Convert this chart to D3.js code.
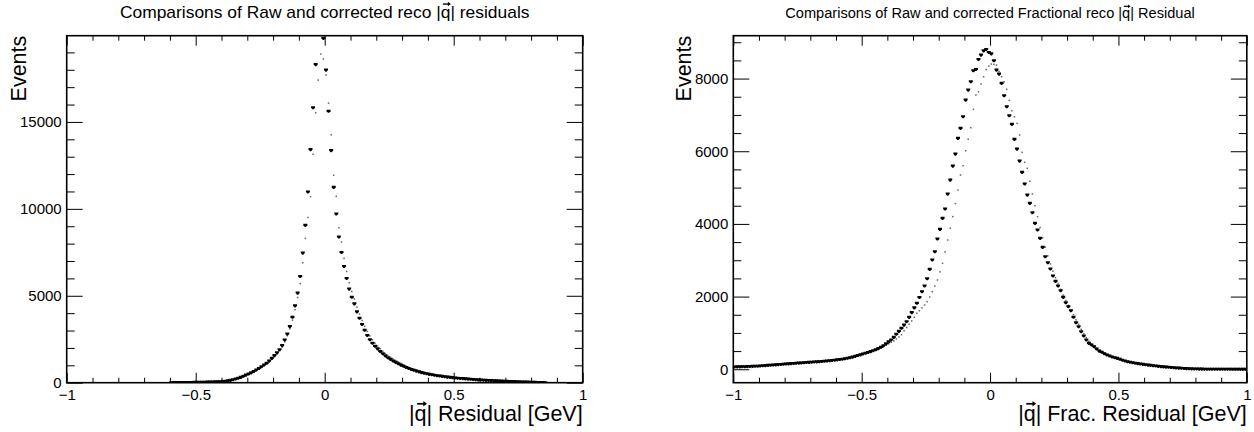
<!DOCTYPE html>
<html>
<head>
<meta charset="utf-8">
<script src="https://cdn.jsdelivr.net/npm/d3@7"></script>
<style>
  body { margin: 0; background: #fff; }
  svg { display: block; }
  text { font-family: "Liberation Sans", Arial, Helvetica, sans-serif; fill: #000; }
</style>
</head>
<body>
<svg id="chart" width="1254" height="432"></svg>
<script>
// Binning shared by all four histograms: 200 bins on [-1, 1]
const binLow = -1, binHigh = 1, nBins = 200;

// Axis ticks
const xMajorTicks = [-1, -0.5, 0, 0.5, 1];
const xMajorLabels = ["\u22121", "\u22120.5", "0", "0.5", "1"];
const xMinorTicks = [-0.9,-0.8,-0.7,-0.6,-0.4,-0.3,-0.2,-0.1,0.1,0.2,0.3,0.4,0.6,0.7,0.8,0.9];
const residMajorTicks = [0, 5000, 10000, 15000];
const residMinorTicks = [1000,2000,3000,4000,6000,7000,8000,9000,11000,12000,13000,14000,16000,17000,18000,19000];
const fracMajorTicks = [0, 2000, 4000, 6000, 8000];
const fracMinorTicks = [500,1000,1500,2500,3000,3500,4500,5000,5500,6500,7000,7500,8500,9000];

// |q| residual, raw reconstruction (dot markers)
const residRaw = [
  0,0,0,0,0,0,0,0,0,0, 0,0,0,0,0,0,0,0,0,0,
  0,0,0,0,0,0,0,0,0,0, 0,0,0,0,0,0,0,0,0,0,
  2,4,6,8,10,11,13,15,17,19,
  22,25,28,31,35,39,43,47,52,58,
  66,80,98,125,160,200,245,295,350,415,
  480,545,620,700,790,885,985,1090,1210,1350,
  1500,1660,1840,2060,2360,2700,3100,3600,4200,4900,
  5700,6900,8300,9500,10703,13141,15527,17406,18905,18617,
  17700,16080,14260,11931,10720,8917,8093,7150,6400,5750,
  5250,4820,4350,3950,3580,3240,2950,2690,2470,2280,
  2110,1950,1810,1680,1565,1460,1365,1275,1190,1110,
  1035,965,900,840,785,735,690,645,605,568,
  533,500,470,442,416,392,370,348,328,310,
  293,278,263,249,236,223,210,198,187,176,
  166,156,146,138,129,121,113,106,99,92,
  86,79,73,67,61,55,50,44,39,34,
  29,23,18,13,8,4,1,0,0,0,
  0,0,0,0,0,0,0,0,0,0
];

// |q| residual, corrected reconstruction (filled markers)
const residCorr = [
  0,0,0,0,0,0,0,0,0,0, 0,0,0,0,0,0,0,0,0,0,
  0,0,0,0,0,0,0,0,0,0, 0,0,0,0,0,0,0,0,0,0,
  3,5,8,9,11,12,14,16,18,20,
  23,26,29,32,36,40,44,49,54,60,
  70,85,105,135,175,215,260,310,370,440,
  500,570,645,730,820,920,1020,1120,1250,1400,
  1560,1720,1900,2133,2461,2807,3228,3770,4421,5153,
  6110,7458,9050,10975,13410,15815,18300,20900,21400,19810,
  17980,15620,13355,11240,9707,8380,7493,6686,5995,5383,
  4922,4536,4075,3712,3350,3020,2720,2470,2270,2100,
  1950,1800,1665,1545,1440,1345,1255,1170,1090,1015,
  945,880,820,765,715,668,625,585,548,515,
  484,456,430,405,385,365,345,325,308,292,
  276,262,248,235,222,210,198,187,176,166,
  156,147,138,130,122,114,107,100,93,87,
  81,75,69,63,58,52,47,42,37,32,
  27,22,17,12,7,3,0,0,0,0,
  0,0,0,0,0,0,0,0,0,0
];

// Fractional |q| residual, raw reconstruction (dot markers)
const fracRaw = [
  60,66,68,70,72,73,77,81,83,87,
  91,96,101,106,112,117,122,128,133,139,
  144,149,154,159,164,169,174,180,185,191,
  196,201,206,211,217,223,229,235,242,249,
  257,265,275,286,298,312,328,346,366,388,
  410,430,450,472,496,522,550,582,620,660,
  700,740,785,835,890,950,1060,1150,1240,1330,
  1430,1541,1610,1690,1770,1860,1990,2135,2290,2457,
  2680,2916,3230,3557,3880,4200,4560,4932,5345,5601,
  6014,6330,6647,7153,7546,7637,7850,8050,8250,8344,
  8400,8390,8371,8200,8050,7912,7703,7400,7114,6950,
  6767,6446,5970,5695,5530,5172,4822,4500,4200,3900,
  3620,3360,3120,2900,2700,2520,2360,2200,2040,1890,
  1760,1640,1500,1360,1240,1100,980,870,775,700,
  640,585,530,490,450,412,380,352,328,306,
  282,258,235,215,198,184,172,160,149,138,
  128,118,109,100,92,84,76,69,62,56,
  50,44,39,34,29,25,21,17,13,10,
  8,6,5,4,3,3,2,2,2,2,
  2,2,2,2,2,2,2,2,2,2
];

// Fractional |q| residual, corrected reconstruction (filled markers)
const fracCorr = [
  62,68,66,72,70,74,78,80,84,86,
  92,97,102,107,112,118,123,129,134,140,
  146,150,155,160,165,170,175,180,186,192,
  195,200,205,210,216,222,229,236,243,251,
  259,268,278,290,303,318,335,355,378,398,
  420,440,462,486,512,540,570,605,650,700,
  755,806,880,965,1045,1128,1215,1310,1430,1560,
  1690,1816,1975,2135,2292,2493,2750,3007,3235,3585,
  3851,4154,4410,4822,5207,5593,5923,6355,6630,6949,
  7408,7684,7912,8215,8253,8528,8646,8765,8803,8721,
  8682,8490,8234,8124,7868,7527,7224,6977,6740,6327,
  6060,5730,5420,5098,4795,4567,4308,4016,3832,3604,
  3356,3098,2933,2759,2567,2421,2292,2162,1981,1832,
  1722,1612,1431,1282,1172,1034,916,806,715,668,
  622,560,500,470,430,393,365,340,320,300,
  275,250,228,209,193,180,168,157,146,135,
  125,116,107,99,90,82,75,68,61,55,
  49,43,38,33,28,24,20,16,12,9,
  7,5,4,3,3,2,2,2,2,2,
  2,2,2,2,2,2,2,2,2,2
];

const panels = [
  {
    id: "resid",
    title: "Comparisons of Raw and corrected reco |q| residuals",
    xTitle: "|q| Residual [GeV]",
    frame: { left: 66.7, right: 582.7, top: 35.7, bottom: 382.7 },
    yDomain: [0, 19960],
    yMajor: residMajorTicks, yMinor: residMinorTicks,
    raw: residRaw, corr: residCorr,
    yTitleX: 26
  },
  {
    id: "frac",
    title: "Comparisons of Raw and corrected Fractional reco |q| Residual",
    xTitle: "|q| Frac. Residual [GeV]",
    frame: { left: 733.3, right: 1246.8, top: 35.7, bottom: 382.7 },
    yDomain: [-370, 9180],
    yMajor: fracMajorTicks, yMinor: fracMinorTicks,
    raw: fracRaw, corr: fracCorr,
    yTitleX: 691
  }
];

const svg = d3.select("#chart");
const binWidth = (binHigh - binLow) / nBins;
const centerOf = i => binLow + (i + 0.5) * binWidth;
const axisTitleSize = 21.5;

// Filled marker: small downward-pointing block
const markerPath = "M-2,-1.5H2V0L0.6,1.6H-0.6L-2,0Z";

// Vector arrow drawn over the "q" that follows the first "|" in a text element
function addVectorArrow(parent, textSel, size) {
  const node = textSel.node();
  const idx = node.textContent.indexOf("|q") + 1;
  const box = node.getExtentOfChar(idx);
  const baseline = +textSel.attr("y");
  const yA = baseline - 0.80 * size;
  const x0 = box.x + 0.12 * size;
  const x1 = box.x + box.width + 0.02 * size;
  const h = 0.13 * size;
  parent.append("line")
    .attr("x1", x0).attr("x2", x1 - h * 0.8)
    .attr("y1", yA).attr("y2", yA)
    .attr("stroke", "#000").attr("stroke-width", Math.max(1, 0.08 * size));
  parent.append("path")
    .attr("d", `M${x1},${yA}L${x1 - h * 1.3},${yA - h}L${x1 - h * 1.3},${yA + h}Z`)
    .attr("fill", "#000");
}

panels.forEach(p => {
  const f = p.frame;
  const x = d3.scaleLinear().domain([binLow, binHigh]).range([f.left, f.right]);
  const y = d3.scaleLinear().domain(p.yDomain).range([f.bottom, f.top]);
  const g = svg.append("g").attr("class", "panel-" + p.id);

  g.append("clipPath").attr("id", "clip-" + p.id)
    .append("rect")
    .attr("x", f.left).attr("y", f.top)
    .attr("width", f.right - f.left).attr("height", f.bottom - f.top);

  const plot = g.append("g").attr("clip-path", "url(#clip-" + p.id + ")");

  // raw reconstruction: small dots
  plot.append("g").attr("fill", "#666")
    .selectAll("rect")
    .data(p.raw.map((v, i) => ({ c: centerOf(i), v })).filter(d => d.v > 0))
    .join("rect")
    .attr("x", d => x(d.c) - 0.75)
    .attr("y", d => y(d.v) - 0.75)
    .attr("width", 1.5).attr("height", 1.5);

  // corrected reconstruction: filled markers
  plot.append("g").attr("fill", "#000")
    .selectAll("path")
    .data(p.corr.map((v, i) => ({ c: centerOf(i), v })).filter(d => d.v > 0))
    .join("path")
    .attr("d", markerPath)
    .attr("transform", d => `translate(${x(d.c)},${y(d.v)})`);

  const strip = sel => { sel.select(".domain").remove(); sel.selectAll("line").attr("stroke", "#000").attr("stroke-width", 1); };
  const labelFont = s => s.selectAll("text").attr("font-size", 15).attr("font-family", "Liberation Sans, Arial, sans-serif");

  // bottom axis with labels, top axis ticks only
  g.append("g").attr("transform", `translate(0,${f.bottom})`)
    .call(d3.axisBottom(x).tickValues(xMinorTicks).tickSize(-5).tickFormat(""))
    .call(strip);
  g.append("g").attr("transform", `translate(0,${f.bottom})`)
    .call(d3.axisBottom(x).tickValues(xMajorTicks).tickSize(-10).tickPadding(7)
      .tickFormat((d, i) => xMajorLabels[i]))
    .call(strip).call(labelFont);
  g.append("g").attr("transform", `translate(0,${f.top})`)
    .call(d3.axisTop(x).tickValues(xMinorTicks).tickSize(-5).tickFormat(""))
    .call(strip);
  g.append("g").attr("transform", `translate(0,${f.top})`)
    .call(d3.axisTop(x).tickValues(xMajorTicks).tickSize(-10).tickFormat(""))
    .call(strip);

  // left axis with labels, right axis ticks only
  g.append("g").attr("transform", `translate(${f.left},0)`)
    .call(d3.axisLeft(y).tickValues(p.yMinor).tickSize(-8).tickFormat(""))
    .call(strip);
  g.append("g").attr("transform", `translate(${f.left},0)`)
    .call(d3.axisLeft(y).tickValues(p.yMajor).tickSize(-16).tickPadding(5).tickFormat(d3.format("d")))
    .call(strip).call(labelFont);
  g.append("g").attr("transform", `translate(${f.right},0)`)
    .call(d3.axisRight(y).tickValues(p.yMinor).tickSize(-8).tickFormat(""))
    .call(strip);
  g.append("g").attr("transform", `translate(${f.right},0)`)
    .call(d3.axisRight(y).tickValues(p.yMajor).tickSize(-16).tickFormat(""))
    .call(strip);

  // frame
  g.append("rect")
    .attr("x", f.left).attr("y", f.top)
    .attr("width", f.right - f.left).attr("height", f.bottom - f.top)
    .attr("fill", "none").attr("stroke", "#000").attr("stroke-width", 1.6);

  // histogram title, fitted to a fixed width
  const title = g.append("text")
    .attr("x", (f.left + f.right) / 2).attr("y", 18)
    .attr("text-anchor", "middle").attr("font-size", 16)
    .text(p.title);
  const w = title.node().getComputedTextLength();
  const titleSize = 16 * 410 / w;
  title.attr("font-size", titleSize);
  addVectorArrow(g, title, titleSize);

  const xTitle = g.append("text")
    .attr("x", f.right).attr("y", 421)
    .attr("text-anchor", "end").attr("font-size", axisTitleSize)
    .text(p.xTitle);
  addVectorArrow(g, xTitle, axisTitleSize);

  g.append("text")
    .attr("transform", `translate(${p.yTitleX},${f.top}) rotate(-90)`)
    .attr("text-anchor", "end").attr("font-size", axisTitleSize)
    .text("Events");
});
</script>
</body>
</html>
